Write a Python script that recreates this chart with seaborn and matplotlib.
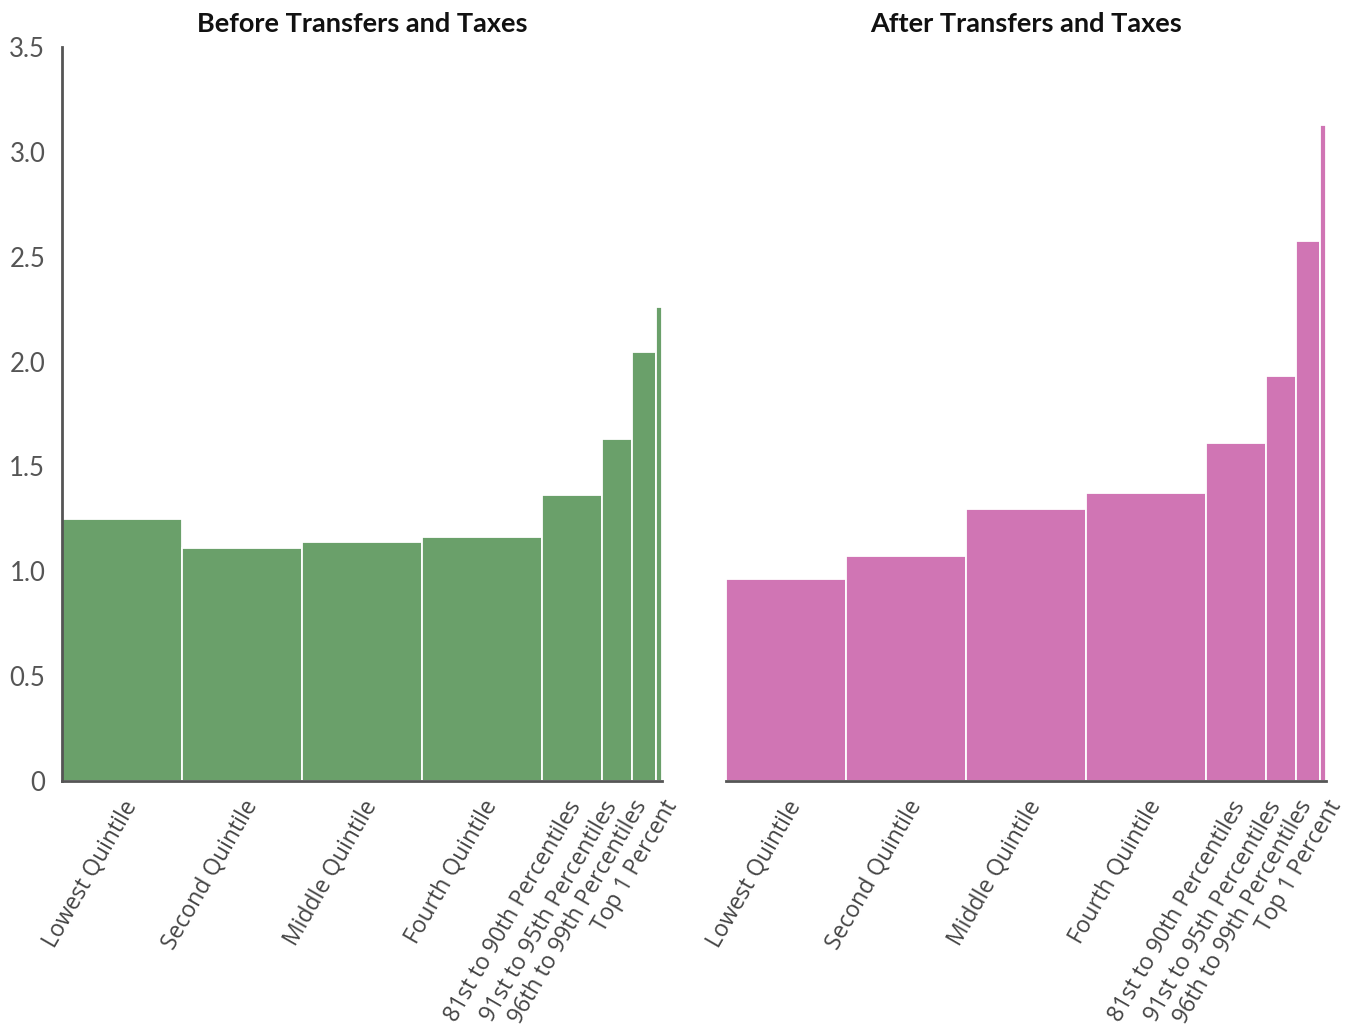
import numpy as np
import pandas as pd
import matplotlib
matplotlib.use("Agg")
import matplotlib.pyplot as plt
import seaborn as sns

groups = ["Lowest Quintile", "Second Quintile", "Middle Quintile", "Fourth Quintile",
          "81st to 90th Percentiles", "91st to 95th Percentiles",
          "96th to 99th Percentiles", "Top 1 Percent"]
# share of population (percent) -> bar widths
shares = [20, 20, 20, 20, 10, 5, 4, 1]
before = [1.25, 1.11, 1.14, 1.165, 1.365, 1.63, 2.045, 2.26]
after = [0.965, 1.075, 1.295, 1.375, 1.61, 1.93, 2.575, 3.13]
yticks = [0, 0.5, 1.0, 1.5, 2.0, 2.5, 3.0, 3.5]
ytick_labels = ["0", "0.5", "1.0", "1.5", "2.0", "2.5", "3.0", "3.5"]
# where the category labels sit (spread out under the narrow bars)
label_pos = [10, 30, 50, 70, 84, 90, 95, 100]

edges = [0] + list(np.cumsum(shares).astype(float))
mids = [(a + b) / 2 for a, b in zip(edges[:-1], edges[1:])]

sns.set_style("white")
plt.rcParams["font.family"] = ["Lato", "DejaVu Sans"]

fig = plt.figure(figsize=(13.54, 10.34), dpi=100)
ax1 = fig.add_axes([0.0458, 0.2447, 0.4431, 0.7099])
ax2 = fig.add_axes([0.5362, 0.2447, 0.4431, 0.7099])

panels = [(ax1, before, "#6aa06a", "Before Transfers and Taxes"),
          (ax2, after, "#d075b4", "After Transfers and Taxes")]

for ax, vals, col, title in panels:
    df = pd.DataFrame({"x": mids, "v": vals})
    sns.histplot(data=df, x="x", weights="v", bins=edges, ax=ax, color=col,
                 alpha=1, edgecolor="white", linewidth=1.3, stat="count")
    ax.set_xlim(0, 100)
    ax.set_ylim(0, 3.5)
    ax.set_xlabel("")
    ax.set_ylabel("")
    ax.set_title(title, fontsize=19.5, fontweight="bold", pad=11, color="#111111")
    ax.set_xticks(label_pos)
    ax.set_xticklabels(groups, rotation=60, ha="right", va="top",
                       rotation_mode="anchor", fontsize=16.5, color="#444444",
                       family=["Open Sans", "DejaVu Sans"])
    ax.tick_params(axis="x", length=0, pad=11)
    for s in ["top", "right"]:
        ax.spines[s].set_visible(False)
    ax.spines["bottom"].set_color("#555555")
    ax.spines["bottom"].set_linewidth(2)

ax1.set_yticks(yticks)
ax1.set_yticklabels(ytick_labels, fontsize=18.5, color="#555555")
ax1.tick_params(axis="y", direction="in", length=9, width=1.5, color="#555555", pad=12)
ax1.spines["left"].set_color("#555555")
ax1.spines["left"].set_linewidth(2)

ax2.spines["left"].set_visible(False)
ax2.set_yticks([])

fig.savefig("out.png", dpi=100)
